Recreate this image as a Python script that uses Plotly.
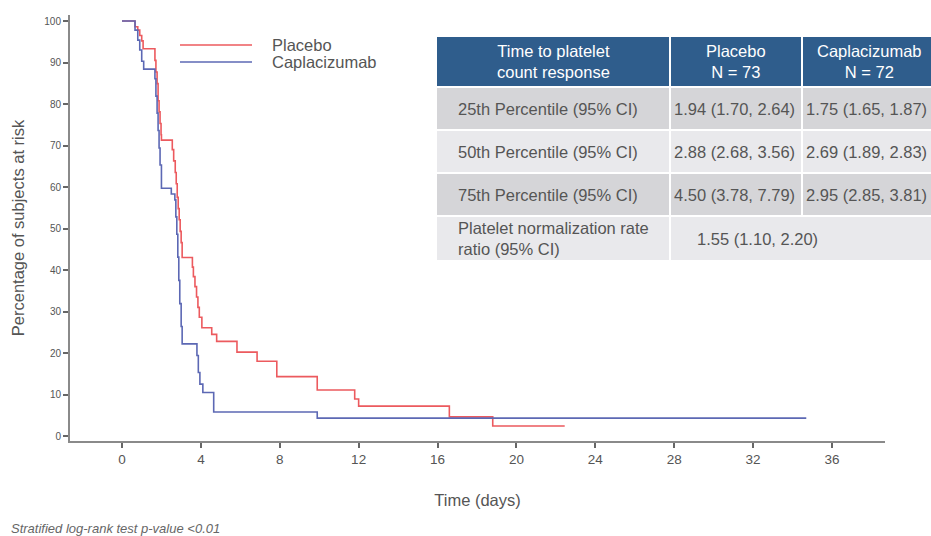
import plotly.graph_objects as go

# ---------------- data ----------------
placebo_t = [0, 0.66, 0.8, 0.9, 1.0, 1.07, 1.67, 1.72, 1.78, 1.83, 1.88, 1.93, 1.98, 2.0,
             2.55, 2.62, 2.7, 2.75, 2.8, 2.85, 2.9, 2.95, 3.0, 3.05, 3.57, 3.62, 3.7,
             3.78, 3.85, 3.92, 4.05, 4.55, 4.8, 5.83, 6.85, 7.85, 9.9, 11.8, 12.0,
             16.6, 18.8, 22.45]
placebo_s = [100, 98.6, 97.8, 96.5, 95.2, 93.3, 90.5, 87.7, 84.9, 80.8, 78.1, 75.3, 72.6, 71.3,
             69.0, 66.3, 63.5, 60.8, 57.5, 54.8, 52.1, 49.3, 46.6, 43.0, 40.7, 38.4, 36.0,
             33.5, 31.0, 28.6, 26.1, 24.5, 22.8, 20.2, 18.0, 14.3, 11.1, 8.9, 7.2,
             4.6, 2.4, 2.4]

capla_t = [0, 0.66, 0.8, 0.9, 1.0, 1.1, 1.67, 1.72, 1.78, 1.83, 1.88, 1.93, 2.0,
           2.5, 2.68, 2.73, 2.78, 2.83, 2.88, 2.93, 3.0, 3.05, 3.8, 3.87, 3.95, 4.1,
           4.65, 9.9, 34.7]
capla_s = [100, 97.8, 95.4, 93.0, 90.3, 88.4, 86.1, 81.9, 77.8, 73.6, 69.4, 65.3, 59.7,
           58.3, 56.9, 52.8, 48.6, 43.1, 37.5, 31.9, 26.4, 22.2, 19.4, 15.3, 12.5, 10.5,
           5.8, 4.3, 4.3]

series_names = ["Placebo", "Caplacizumab"]
series_colors = ["#ec5a5e", "#5c68b4"]

x_ticks = [0, 4, 8, 12, 16, 20, 24, 28, 32, 36]
y_ticks = [0, 10, 20, 30, 40, 50, 60, 70, 80, 90, 100]

table_header = [["Time to platelet", "count response"], ["Placebo", "N = 73"], ["Caplacizumab", "N = 72"]]
table_rows = [
    ["25th Percentile (95% CI)", "1.94 (1.70, 2.64)", "1.75 (1.65, 1.87)"],
    ["50th Percentile (95% CI)", "2.88 (2.68, 3.56)", "2.69 (1.89, 2.83)"],
    ["75th Percentile (95% CI)", "4.50 (3.78, 7.79)", "2.95 (2.85, 3.81)"],
]
ratio_label = ["Platelet normalization rate", "ratio (95% CI)"]
ratio_value = "1.55 (1.10, 2.20)"
footnote = "Stratified log-rank test p-value <0.01"

# ---------------- layout geometry (window pixels) ----------------
W, H = 931, 536
L, R, T, B = 70, 885, 15, 441  # plot area edges

def px(x):
    return (x - L) / (R - L)

def py(y):
    return (B - y) / (B - T)

FONT = "Liberation Sans, Arial, sans-serif"
TXT = "#555555"
FS = 16.5

fig = go.Figure()
for t, s, name, col in [(placebo_t, placebo_s, series_names[0], series_colors[0]),
                        (capla_t, capla_s, series_names[1], series_colors[1])]:
    fig.add_trace(go.Scatter(x=t, y=s, mode="lines", line=dict(color=col, width=1.6, shape="hv"),
                             name=name, showlegend=False))

shapes = []
annotations = []

# legend
for i, (name, col) in enumerate(zip(series_names, series_colors)):
    yy = 45 + i * 17
    shapes.append(dict(type="line", xref="paper", yref="paper", x0=px(180), x1=px(252),
                       y0=py(yy), y1=py(yy), line=dict(color=col, width=1.6)))
    annotations.append(dict(xref="paper", yref="paper", x=px(270), y=py(yy), text=name,
                            showarrow=False, xanchor="left", yanchor="middle",
                            font=dict(family=FONT, size=FS, color=TXT)))

# table
cols = [(437, 669), (671, 801), (803, 960)]
rows_y = [(37, 86), (88, 129), (131, 172), (174, 215), (217, 260)]
header_color = "#2f5d8c"
row_colors = ["#d5d5d8", "#e9e9ec", "#d5d5d8", "#e9e9ec"]

for ci, (x0, x1) in enumerate(cols):
    y0, y1 = rows_y[0]
    shapes.append(dict(type="rect", xref="paper", yref="paper", x0=px(x0), x1=px(x1),
                       y0=py(y1), y1=py(y0), fillcolor=header_color, line=dict(width=0), layer="above"))
    annotations.append(dict(xref="paper", yref="paper", x=px((x0 + min(x1, 935)) / 2), y=py((y0 + y1) / 2),
                            text="<br>".join(table_header[ci]), showarrow=False,
                            xanchor="center", yanchor="middle", align="center",
                            font=dict(family=FONT, size=FS, color="white")))

for ri, row in enumerate(table_rows):
    y0, y1 = rows_y[ri + 1]
    for ci, (x0, x1) in enumerate(cols):
        shapes.append(dict(type="rect", xref="paper", yref="paper", x0=px(x0), x1=px(x1),
                           y0=py(y1), y1=py(y0), fillcolor=row_colors[ri], line=dict(width=0), layer="above"))
        tx = 456 if ci == 0 else x0 + 1
        annotations.append(dict(xref="paper", yref="paper", x=px(tx), y=py((y0 + y1) / 2),
                                text=row[ci], showarrow=False, xanchor="left", yanchor="middle",
                                font=dict(family=FONT, size=FS, color=TXT)))

y0, y1 = rows_y[4]
shapes.append(dict(type="rect", xref="paper", yref="paper", x0=px(437), x1=px(669),
                   y0=py(y1), y1=py(y0), fillcolor=row_colors[3], line=dict(width=0), layer="above"))
shapes.append(dict(type="rect", xref="paper", yref="paper", x0=px(671), x1=px(960),
                   y0=py(y1), y1=py(y0), fillcolor=row_colors[3], line=dict(width=0), layer="above"))
annotations.append(dict(xref="paper", yref="paper", x=px(456), y=py((y0 + y1) / 2),
                        text="<br>".join(ratio_label), showarrow=False, xanchor="left", yanchor="middle",
                        align="left", font=dict(family=FONT, size=FS, color=TXT)))
annotations.append(dict(xref="paper", yref="paper", x=px(757), y=py((y0 + y1) / 2),
                        text=ratio_value, showarrow=False, xanchor="center", yanchor="middle",
                        font=dict(family=FONT, size=FS, color=TXT)))

# footnote
annotations.append(dict(xref="paper", yref="paper", x=px(9), y=py(528), text="<i>" + footnote + "</i>",
                        showarrow=False, xanchor="left", yanchor="middle",
                        font=dict(family=FONT, size=13, color="#666666")))

x_range = [(L - 122) / 19.72, (R - 122) / 19.72]
y_per = (436 - 21) / 100.0
y_range = [(436 - B) / y_per, (436 - T) / y_per]

fig.update_layout(
    width=W, height=H,
    margin=dict(l=L, r=W - R, t=T, b=H - B, pad=0),
    paper_bgcolor="white", plot_bgcolor="white",
    shapes=shapes, annotations=annotations,
    showlegend=False,
    xaxis=dict(range=x_range, tickvals=x_ticks, ticktext=[str(v) for v in x_ticks],
               showgrid=False, zeroline=False, showline=True, linecolor="#8a8a8a", linewidth=2,
               ticks="outside", ticklen=5, tickcolor="#666666", tickwidth=1.5,
               tickfont=dict(family=FONT, size=13.5, color=TXT),
               title=dict(text="Time (days)", font=dict(family=FONT, size=FS, color=TXT), standoff=28)),
    yaxis=dict(range=y_range, tickvals=y_ticks, ticktext=[str(v) for v in y_ticks],
               showgrid=False, zeroline=False, showline=True, linecolor="#8a8a8a", linewidth=2,
               ticks="outside", ticklen=5, tickcolor="#666666", tickwidth=1.5,
               tickfont=dict(family=FONT, size=10, color=TXT),
               title=dict(text="Percentage of subjects at risk", font=dict(family=FONT, size=FS, color=TXT),
                          standoff=16)),
)

fig.write_html("out.html", config={"displayModeBar": False},
               post_script="document.body.style.margin='0';document.body.style.overflow='hidden';")
